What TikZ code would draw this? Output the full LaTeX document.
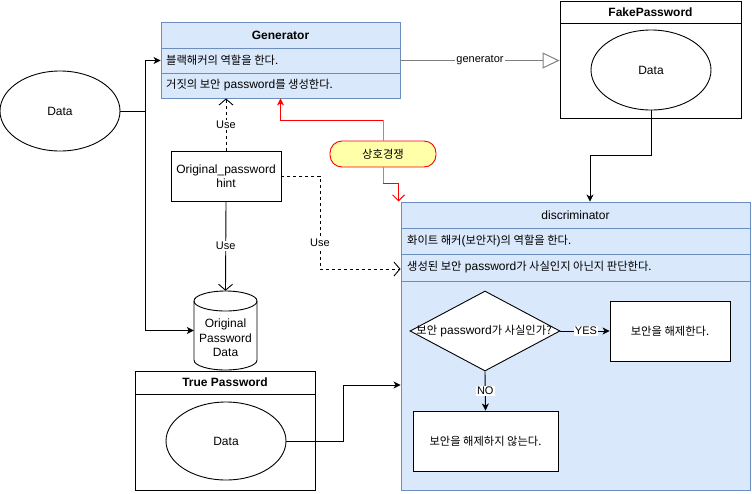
\documentclass[tikz,border=0pt]{standalone}
\usepackage{fontspec}
\setmainfont{Liberation Sans}
\newfontfamily\ko[Scale=0.94]{Noto Sans CJK KR}
\usetikzlibrary{arrows.meta,shapes.geometric,calc}
\definecolor{bfill}{HTML}{DAE8FC}
\definecolor{bline}{HTML}{6C8EBF}
\definecolor{ylw}{HTML}{FFFFAA}
\definecolor{gline}{HTML}{808080}
\tikzset{
  base/.style={font=\fontsize{12}{14}\selectfont},
  lane/.style={draw=bline, fill=bfill, line width=0.9pt, inner sep=0pt},
  blk/.style={draw=black, fill=white, line width=0.9pt, inner sep=0pt},
  rowtext/.style={anchor=west, inner sep=0pt},
  ell/.style={ellipse, draw=black, fill=white, line width=0.9pt, inner sep=0pt},
  conn/.style={line width=0.9pt, draw=black},
  filledtip/.style={-{Stealth[length=7pt,width=7pt,inset=2pt]}},
  opentip/.style={-{Straight Barb[length=6pt,width=14pt,line width=0.9pt]}},
  elabel/.style={fill=white, inner sep=1pt, font=\fontsize{11}{13}\selectfont},
  titlef/.style={font=\fontsize{12}{14}\selectfont\bfseries}
}
\begin{document}
\begin{tikzpicture}[x=1pt,y=-1pt,base]
\useasboundingbox (0,0) rectangle (752,493);

% ---------- Generator ----------
\node[lane, minimum width=239, minimum height=76] (gen) at (280.5,60) {};
\node[lane, minimum width=239, minimum height=26, titlef] (genT) at (280.5,35) {Generator};
\node[lane, minimum width=239, minimum height=25] (genR1) at (280.5,60.5) {};
\node[lane, minimum width=239, minimum height=25] (genR2) at (280.5,85.5) {};
\node[rowtext] (genR1t) at (166,60.5) {\ko 블랙해커의 역할을 한다.};
\node[rowtext] (genR2t) at (166,85.5) {{\ko 거짓의 보안} password{\ko 를 생성한다.}};

% ---------- FakePassword ----------
\node[blk, minimum width=181, minimum height=117] (fake) at (650.5,59.5) {};
\node[blk, minimum width=181, minimum height=22, titlef] (fakeT) at (650.5,12) {FakePassword};
\node[ell, minimum width=120, minimum height=80] (fd) at (651,70) {Data};

% ---------- Left Data ----------
\node[ell, minimum width=120, minimum height=80] (data) at (60,111) {Data};

% ---------- Hint ----------
\node[blk, minimum width=110, minimum height=50, align=center] (hint) at (226,176) {Original\_password\\hint};

% ---------- Cylinder ----------
\node[minimum width=63, minimum height=79, inner sep=0pt] (cyl) at (225.5,330.5) {};
\draw[line width=0.9pt, fill=white] (194,301) -- (194,360)
   arc[start angle=180, end angle=0, x radius=31.5, y radius=10]
   -- (257,301)
   arc[start angle=0, end angle=-180, x radius=31.5, y radius=10] -- cycle;
\draw[line width=0.9pt] (194,301) arc[start angle=180, end angle=0, x radius=31.5, y radius=10];
\node[align=center, inner sep=0pt, font=\fontsize{12}{14.5}\selectfont] (cylt) at (225.5,338) {Original\\Password\\Data};

% ---------- True Password ----------
\node[blk, minimum width=180, minimum height=119] (tp) at (225,430.5) {};
\node[blk, minimum width=180, minimum height=23, titlef] (tpT) at (225,382.5) {True Password};
\node[ell, minimum width=120, minimum height=78] (td) at (226,441) {Data};

% ---------- discriminator ----------
\node[lane, minimum width=349, minimum height=288] (disc) at (575.5,346) {};
\node[lane, minimum width=349, minimum height=26] (discT) at (575.5,215) {discriminator};
\node[lane, minimum width=349, minimum height=26] (discR1) at (575.5,241) {};
\node[lane, minimum width=349, minimum height=27] (discR2) at (575.5,267.5) {};
\node[rowtext] (discR1t) at (407,241) {{\ko 화이트 해커}({\ko 보안자}){\ko 의 역할을 한다.}};
\node[rowtext] (discR2t) at (407,267.5) {{\ko 생성된 보안} password{\ko 가 사실인지 아닌지 판단한다.}};

\node[diamond, draw=black, fill=white, line width=0.9pt, minimum width=150, minimum height=80, inner sep=0pt] (dia) at (485,331) {};
\node[inner sep=0pt] (diat) at (484,331) {{\ko 보안} password{\ko 가 사실인가?}};
\node[blk, minimum width=120, minimum height=60] (yes) at (670,331) {\ko 보안을 해제한다.};
\node[blk, minimum width=145, minimum height=60] (no) at (485.5,441) {\ko 보안을 해제하지 않는다.};

% ---------- connectors ----------
\coordinate (dj) at (145,111);
\draw[conn, filledtip] (data.east) -- (dj) |- (genR1.west);
\draw[conn, filledtip] (dj) |- (cyl.west);

\draw[line width=1pt, draw=gline, -{Triangle[open, length=17pt, width=16pt, fill=white]}]
   (genR1.east) -- node[elabel, pos=0.5] (glab) {generator} (genR1.east -| fake.west);

\draw[conn, dashed, opentip] (hint.north) -- node[elabel, pos=0.5] (use1) {Use} (hint.north |- gen.south);
\draw[conn, opentip] (hint.south) -- node[elabel, pos=0.5] (use2) {Use} (cyl.north);
\coordinate (hj) at (320,176);
\draw[conn, dashed, opentip] (hint.east) -- (hj) |- node[elabel, pos=0.36] (use3) {Use} ([yshift=-1.5pt]discR2.west);

\coordinate (fj) at (651,155);
\coordinate (fk) at (590,155);
\draw[conn, filledtip] (fd.south) -- (fj) -- (fk) -- (fk |- disc.north);

\coordinate (tj) at (343,441);
\draw[conn, filledtip] (td.east) -- (tj) |- ([yshift=-39pt]disc.west);

\draw[conn, filledtip] (dia.east) -- node[elabel, pos=0.52] (yl) {YES} (yes.west);
\draw[conn, filledtip] (dia.south) -- node[elabel, pos=0.5] (nl) {NO} (no.north);

% ---------- red competition ----------
\node[draw=red, fill=ylw, line width=0.9pt, rounded corners=12pt, minimum width=106, minimum height=26, inner sep=0pt] (comp) at (383,154) {\ko 상호경쟁};
\coordinate (r1) at (383,120);
\coordinate (r2) at (383,183);
\draw[line width=1pt, draw=red!60] (comp.north) -- (r1);
\draw[line width=1pt, draw=red!60] (comp.south) -- (r2);
\draw[line width=1pt, draw=red, -{Stealth[length=7pt,width=7pt,inset=2pt]}] (r1) -| (gen.south);
\draw[line width=1pt, draw=red, -{Straight Barb[length=6pt,width=12pt,line width=1pt]}] (r2) -| ([xshift=-2pt]disc.north west);
\end{tikzpicture}
\end{document}
